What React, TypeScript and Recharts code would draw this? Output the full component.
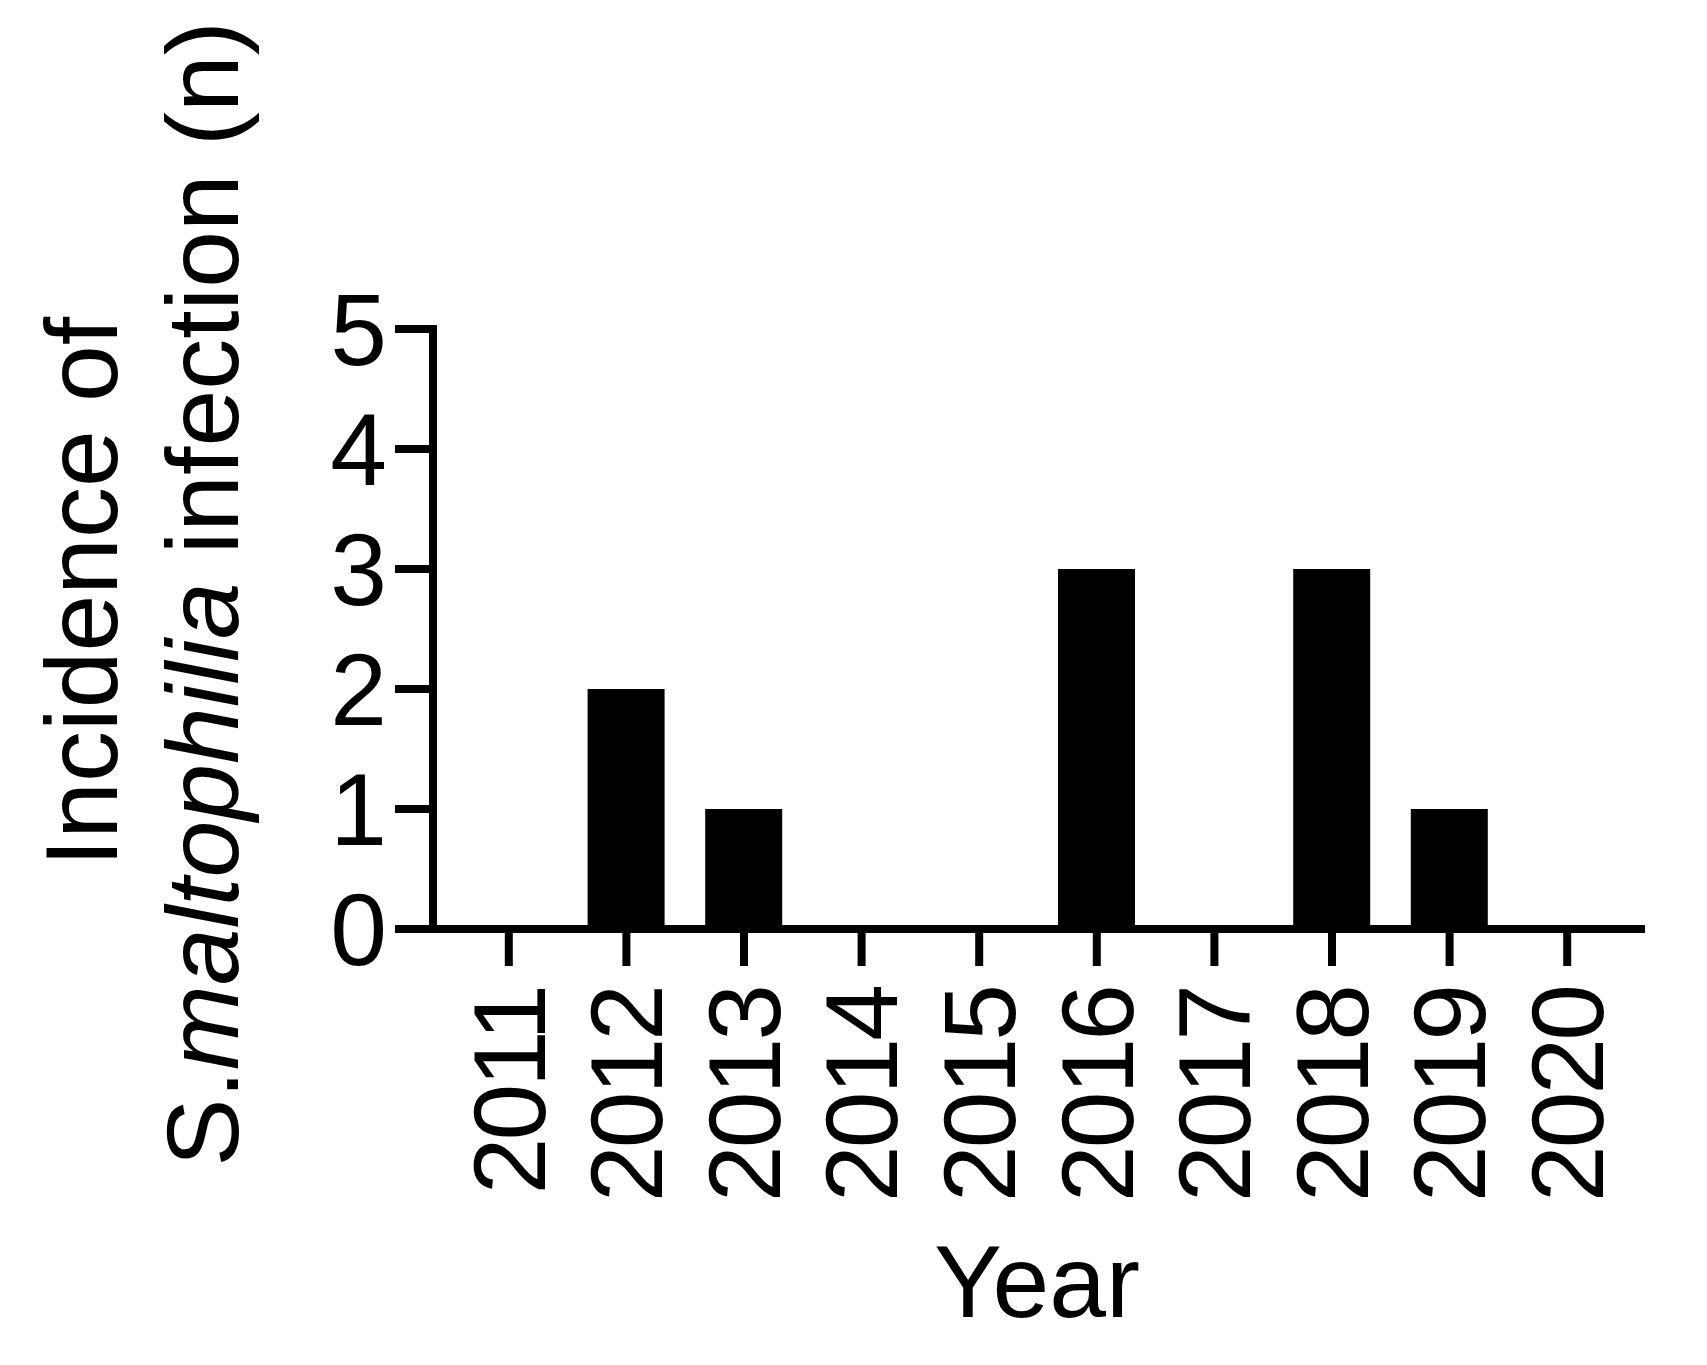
import React from 'react';
import { BarChart, Bar, XAxis, YAxis, Label } from 'recharts';

// Yearly counts of S. maltophilia infection
const years = ['2011', '2012', '2013', '2014', '2015', '2016', '2017', '2018', '2019', '2020'];
const cases = [0, 2, 1, 0, 0, 3, 0, 3, 1, 0];
const yTicks = [0, 1, 2, 3, 4, 5];

const data = years.map((year, i) => ({ year, cases: cases[i] }));

const FONT = 'Arial, "Liberation Sans", Helvetica, sans-serif';
const AXIS = { stroke: '#000', strokeWidth: 8, strokeLinecap: 'square' as const };

// rotated year labels, reading bottom-to-top
const YearTick = ({ x, y, payload }: any) => (
  <text
    transform={`translate(${x},${y}) rotate(-90)`}
    textAnchor="end"
    dy="0.35em"
    fontSize={102}
    fontFamily={FONT}
    letterSpacing={-3}
    fill="#000"
  >
    {payload.value}
  </text>
);

const YTitle = ({ viewBox }: any) => {
  const x0 = viewBox?.x ?? 0;
  return (
    <g fontFamily={FONT} fontSize={102} fill="#000" textAnchor="middle">
      <text transform={`translate(${x0 + 117},592) rotate(-90)`}>Incidence of</text>
      <text transform={`translate(${x0 + 238},594) rotate(-90)`}>
        <tspan>S.</tspan>
        <tspan fontStyle="italic">maltophilia</tspan>
        <tspan>{' infection (n)'}</tspan>
      </text>
    </g>
  );
};

const XTitle = ({ viewBox }: any) => {
  const { x = 0, y = 0, width = 0 } = viewBox || {};
  return (
    <text x={x + width / 2} y={y + 388} textAnchor="middle" fontFamily={FONT} fontSize={102} fill="#000">
      Year
    </text>
  );
};

export default function App() {
  return (
    <div style={{ width: 1707, height: 1365, background: '#fff', margin: -8 }}>
      <BarChart
        width={1707}
        height={1365}
        data={data}
        margin={{ top: 329, right: 66, bottom: 0, left: 0 }}
      >
        <XAxis
          dataKey="year"
          height={436}
          axisLine={AXIS}
          tickLine={AXIS}
          tickSize={33}
          tickMargin={25}
          tick={<YearTick />}
          interval={0}
          padding={{ left: 17, right: 15 }}
        >
          <Label content={<XTitle />} />
        </XAxis>
        <YAxis
          width={433}
          domain={[0, 5]}
          ticks={yTicks}
          interval={0}
          axisLine={AXIS}
          tickLine={AXIS}
          tickSize={34}
          tickMargin={12}
          tick={{ fontSize: 102, fontFamily: FONT, fill: '#000' }}
        >
          <Label content={<YTitle />} />
        </YAxis>
        <Bar dataKey="cases" fill="#000" barSize={77} isAnimationActive={false} />
      </BarChart>
    </div>
  );
}
